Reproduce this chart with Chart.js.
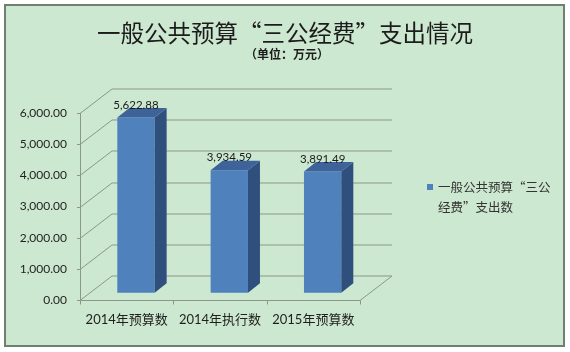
<!DOCTYPE html>
<html>
<head>
<meta charset="utf-8">
<script src="https://cdn.jsdelivr.net/npm/chart.js@4.4.1/dist/chart.umd.min.js"></script>
<style>
  html, body { margin: 0; padding: 0; background: #fff; }
  #wrap { width: 570px; height: 352px; }
</style>
</head>
<body>
<div id="wrap"><canvas id="spendChart" width="570" height="352"></canvas></div>
<script>
const chartTitle = "一般公共预算“三公经费”支出情况";
const chartUnit = "（单位：万元）";
const categories = ["2014年预算数", "2014年执行数", "2015年预算数"];
const spending = [5622.88, 3934.59, 3891.49];
const yTicks = [0, 1000, 2000, 3000, 4000, 5000, 6000];
const seriesName = "一般公共预算“三公经费”支出数";
const legendLines = ["一般公共预算“三公", "经费”支出数"];

// fake 3d: how far the back wall sits behind the axis plane,
// where the bars stand inside that depth and how deep they are
const WALL = { dx: 32, dy: -24.5 };
const BAR_SHIFT = { dx: 9.3, dy: -7.2 };
const BAR_DEPTH = { dx: 12, dy: -9.5 };

const fmt = v => v.toLocaleString("en-US", { minimumFractionDigits: 2, maximumFractionDigits: 2 });

const frame3d = {
  id: "frame3d",
  beforeDraw(chart) {
    const ctx = chart.ctx;
    ctx.save();
    ctx.fillStyle = "#fff";
    ctx.fillRect(0, 0, chart.width, chart.height);
    ctx.fillStyle = "#cde8d0";
    ctx.fillRect(5, 5, 559, 341);
    ctx.strokeStyle = "#6f806f";
    ctx.lineWidth = 2;
    ctx.strokeRect(5, 5, 559, 341);

    // title + unit
    ctx.fillStyle = "#1c1c1c";
    ctx.textAlign = "center";
    ctx.textBaseline = "middle";
    ctx.font = "23.5px 'Noto Sans CJK SC'";
    ctx.fillText(chartTitle, 285, 33);
    ctx.font = "bold 12px 'Noto Sans CJK SC'";
    ctx.fillText(chartUnit, 287, 54);

    // legend (wrapped in two lines like the original)
    const ds = chart.data.datasets[0];
    ctx.fillStyle = ds.backgroundColor;
    ctx.fillRect(427, 184, 6, 6);
    ctx.fillStyle = "#333";
    ctx.textAlign = "left";
    ctx.font = "12.5px 'Noto Sans CJK SC'";
    legendLines.forEach((line, i) => ctx.fillText(line, 438, 187 + i * 20));
    ctx.restore();
  },
  beforeDatasetsDraw(chart) {
    const { ctx, scales: { x, y } } = chart;
    const left = x.left, right = x.right;
    const base = Math.round(y.getPixelForValue(0)) + 0.5;
    ctx.save();
    ctx.strokeStyle = "#8a978a";
    ctx.lineWidth = 1;

    // gridlines: left side wall + back wall
    yTicks.forEach(v => {
      const py = Math.round(y.getPixelForValue(v)) + 0.5;
      ctx.beginPath();
      ctx.moveTo(left - 3, py);
      ctx.lineTo(left, py);
      ctx.lineTo(left + WALL.dx, py + WALL.dy);
      ctx.lineTo(right + WALL.dx, py + WALL.dy);
      ctx.stroke();
    });

    // value axis + floor edges
    ctx.beginPath();
    ctx.moveTo(left + 0.5, Math.round(y.getPixelForValue(yTicks[yTicks.length - 1])));
    ctx.lineTo(left + 0.5, base);
    ctx.lineTo(right, base);
    ctx.lineTo(right + WALL.dx, base + WALL.dy);
    ctx.stroke();

    // category ticks
    const half = (x.getPixelForValue(1) - x.getPixelForValue(0)) / 2;
    for (let i = 0; i <= categories.length; i++) {
      const px = Math.round(x.getPixelForValue(0) - half + i * half * 2) + 0.5;
      ctx.beginPath();
      ctx.moveTo(px, base);
      ctx.lineTo(px, base + 4);
      ctx.stroke();
    }
    ctx.restore();

    // the front faces are drawn by Chart.js, pushed back into the box
    ctx.save();
    ctx.translate(BAR_SHIFT.dx, BAR_SHIFT.dy);
  },
  afterDatasetsDraw(chart) {
    const ctx = chart.ctx;
    ctx.restore();
    const meta = chart.getDatasetMeta(0);
    ctx.save();
    meta.data.forEach((bar, i) => {
      const l = bar.x - bar.width / 2 + BAR_SHIFT.dx;
      const r = bar.x + bar.width / 2 + BAR_SHIFT.dx;
      const t = bar.y + BAR_SHIFT.dy;
      const b = bar.base + BAR_SHIFT.dy;

      // side
      ctx.fillStyle = "#2f4f7d";
      ctx.beginPath();
      ctx.moveTo(r, t);
      ctx.lineTo(r + BAR_DEPTH.dx, t + BAR_DEPTH.dy);
      ctx.lineTo(r + BAR_DEPTH.dx, b + BAR_DEPTH.dy);
      ctx.lineTo(r, b);
      ctx.closePath();
      ctx.fill();

      // top
      ctx.fillStyle = "#3d639a";
      ctx.beginPath();
      ctx.moveTo(l, t);
      ctx.lineTo(l + BAR_DEPTH.dx, t + BAR_DEPTH.dy);
      ctx.lineTo(r + BAR_DEPTH.dx, t + BAR_DEPTH.dy);
      ctx.lineTo(r, t);
      ctx.closePath();
      ctx.fill();

      // value label
      ctx.fillStyle = "#1a1a1a";
      ctx.font = "11.5px Lato, 'Noto Sans CJK SC'";
      ctx.textAlign = "center";
      ctx.textBaseline = "alphabetic";
      ctx.fillText(fmt(spending[i]), (l + r) / 2, t + BAR_DEPTH.dy + 0.5);
    });
    ctx.restore();
  }
};

const ctx = document.getElementById("spendChart").getContext("2d");
new Chart(ctx, {
  type: "bar",
  data: {
    labels: categories,
    datasets: [{
      label: seriesName,
      data: spending,
      backgroundColor: "#4f81bd",
      borderWidth: 0,
      barPercentage: 0.4,
      categoryPercentage: 1,
      clip: false
    }]
  },
  options: {
    responsive: false,
    animation: false,
    devicePixelRatio: 1,
    layout: { padding: { top: 113, right: 210, bottom: 22, left: 0 } },
    plugins: {
      legend: { display: false },
      tooltip: { enabled: false }
    },
    scales: {
      x: {
        grid: { display: false },
        border: { display: false },
        ticks: {
          color: "#1f1f1f",
          padding: 4,
          maxRotation: 0,
          font: { family: "Lato, 'Noto Sans CJK SC'", size: 13 }
        },
        afterFit: s => { s.height = 30; }
      },
      y: {
        min: yTicks[0],
        max: yTicks[yTicks.length - 1],
        grid: { display: false },
        border: { display: false },
        ticks: {
          stepSize: 1000,
          color: "#1f1f1f",
          padding: 5,
          font: { family: "Lato, 'Noto Sans CJK SC'", size: 12 },
          callback: v => fmt(v)
        },
        afterFit: s => { s.width = 80; }
      }
    }
  },
  plugins: [frame3d]
});
</script>
</body>
</html>
